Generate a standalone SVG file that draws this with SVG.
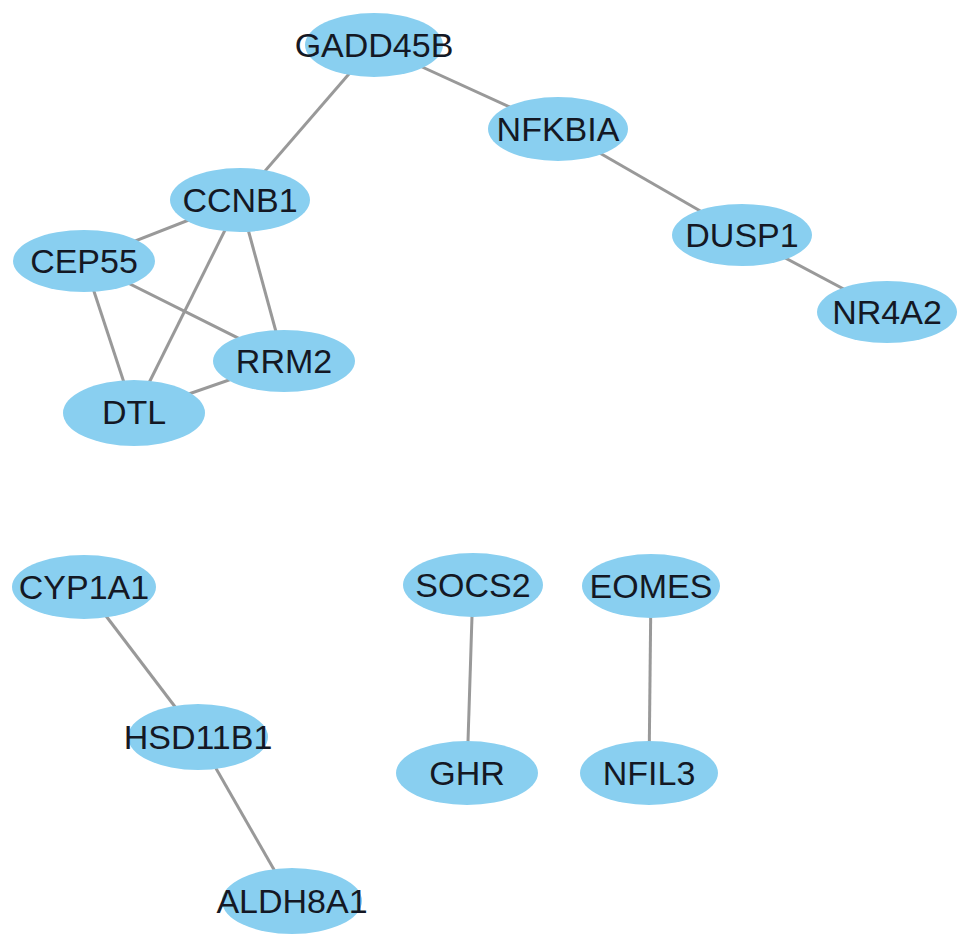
<svg xmlns="http://www.w3.org/2000/svg" width="969" height="946" viewBox="0 0 969 946">
<style>
.edge{stroke:#999999;stroke-width:3;fill:none}
.node ellipse{fill:#89CFF0}
.node text{font-family:"Liberation Sans",Arial,Helvetica,sans-serif;font-size:34px;fill:#141824;text-anchor:middle}
</style>
<rect width="969" height="946" fill="#ffffff"/>
<g id="edges">
<line class="edge" x1="374" y1="45" x2="240" y2="200"/>
<line class="edge" x1="374" y1="45" x2="558" y2="129"/>
<line class="edge" x1="558" y1="129" x2="742" y2="235"/>
<line class="edge" x1="742" y1="235" x2="887" y2="312"/>
<line class="edge" x1="240" y1="200" x2="84" y2="261"/>
<line class="edge" x1="240" y1="200" x2="134" y2="413"/>
<line class="edge" x1="240" y1="200" x2="284" y2="361"/>
<line class="edge" x1="84" y1="261" x2="284" y2="361"/>
<line class="edge" x1="84" y1="261" x2="134" y2="413"/>
<line class="edge" x1="134" y1="413" x2="284" y2="361"/>
<line class="edge" x1="84" y1="587" x2="198" y2="737"/>
<line class="edge" x1="198" y1="737" x2="292" y2="901"/>
<line class="edge" x1="473" y1="585" x2="467" y2="773"/>
<line class="edge" x1="651" y1="586" x2="649" y2="773"/>
</g>
<g id="GADD45B" class="node"><ellipse cx="374" cy="45" rx="69" ry="32"/><text x="374" y="57">GADD45B</text></g>
<g id="NFKBIA" class="node"><ellipse cx="558" cy="129" rx="70" ry="32"/><text x="558" y="141">NFKBIA</text></g>
<g id="DUSP1" class="node"><ellipse cx="742" cy="235" rx="70" ry="31"/><text x="742" y="247">DUSP1</text></g>
<g id="NR4A2" class="node"><ellipse cx="887" cy="312" rx="70" ry="31"/><text x="887" y="324">NR4A2</text></g>
<g id="CCNB1" class="node"><ellipse cx="240" cy="200" rx="70" ry="32"/><text x="240" y="212">CCNB1</text></g>
<g id="CEP55" class="node"><ellipse cx="84" cy="261" rx="71" ry="31"/><text x="84" y="273">CEP55</text></g>
<g id="RRM2" class="node"><ellipse cx="284" cy="361" rx="71" ry="31"/><text x="284" y="373">RRM2</text></g>
<g id="DTL" class="node"><ellipse cx="134" cy="413" rx="71" ry="33"/><text x="134" y="424">DTL</text></g>
<g id="CYP1A1" class="node"><ellipse cx="84" cy="587" rx="72" ry="32"/><text x="84" y="599">CYP1A1</text></g>
<g id="HSD11B1" class="node"><ellipse cx="198" cy="737" rx="70" ry="33"/><text x="198" y="749">HSD11B1</text></g>
<g id="ALDH8A1" class="node"><ellipse cx="292" cy="901" rx="70" ry="33"/><text x="292" y="913">ALDH8A1</text></g>
<g id="SOCS2" class="node"><ellipse cx="473" cy="585" rx="70" ry="32"/><text x="473" y="597">SOCS2</text></g>
<g id="EOMES" class="node"><ellipse cx="651" cy="586" rx="69" ry="32"/><text x="651" y="598">EOMES</text></g>
<g id="GHR" class="node"><ellipse cx="467" cy="773" rx="71" ry="32"/><text x="467" y="785">GHR</text></g>
<g id="NFIL3" class="node"><ellipse cx="649" cy="773" rx="69" ry="32"/><text x="649" y="785">NFIL3</text></g>
</svg>
